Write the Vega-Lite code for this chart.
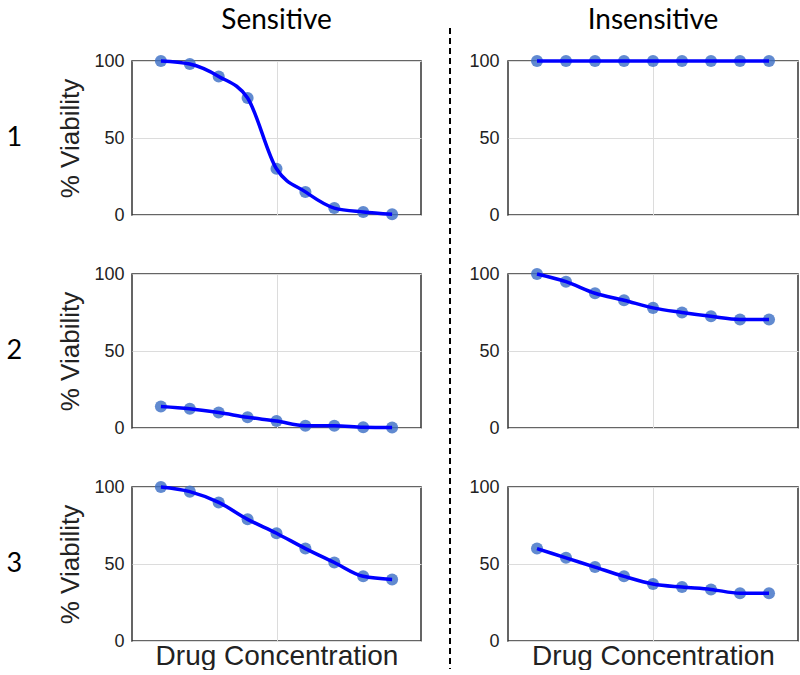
{
  "$schema": "https://vega.github.io/schema/vega-lite/v6.json",
  "padding": {"top": 7, "left": 6, "right": 0, "bottom": 0},
  "background": "white",
  "datasets": {
    "d": [
      {"col": "Sensitive", "row": 1, "conc": 1, "viability": 100},
      {"col": "Sensitive", "row": 1, "conc": 2, "viability": 98},
      {"col": "Sensitive", "row": 1, "conc": 3, "viability": 90},
      {"col": "Sensitive", "row": 1, "conc": 4, "viability": 76},
      {"col": "Sensitive", "row": 1, "conc": 5, "viability": 30},
      {"col": "Sensitive", "row": 1, "conc": 6, "viability": 15},
      {"col": "Sensitive", "row": 1, "conc": 7, "viability": 4.5},
      {"col": "Sensitive", "row": 1, "conc": 8, "viability": 2},
      {"col": "Sensitive", "row": 1, "conc": 9, "viability": 0.5},
      {"col": "Sensitive", "row": 2, "conc": 1, "viability": 14},
      {"col": "Sensitive", "row": 2, "conc": 2, "viability": 12.5},
      {"col": "Sensitive", "row": 2, "conc": 3, "viability": 10},
      {"col": "Sensitive", "row": 2, "conc": 4, "viability": 7},
      {"col": "Sensitive", "row": 2, "conc": 5, "viability": 4.5},
      {"col": "Sensitive", "row": 2, "conc": 6, "viability": 1.5},
      {"col": "Sensitive", "row": 2, "conc": 7, "viability": 1.5},
      {"col": "Sensitive", "row": 2, "conc": 8, "viability": 0.5},
      {"col": "Sensitive", "row": 2, "conc": 9, "viability": 0.3},
      {"col": "Sensitive", "row": 3, "conc": 1, "viability": 100},
      {"col": "Sensitive", "row": 3, "conc": 2, "viability": 97},
      {"col": "Sensitive", "row": 3, "conc": 3, "viability": 90},
      {"col": "Sensitive", "row": 3, "conc": 4, "viability": 79},
      {"col": "Sensitive", "row": 3, "conc": 5, "viability": 70},
      {"col": "Sensitive", "row": 3, "conc": 6, "viability": 60},
      {"col": "Sensitive", "row": 3, "conc": 7, "viability": 51},
      {"col": "Sensitive", "row": 3, "conc": 8, "viability": 42},
      {"col": "Sensitive", "row": 3, "conc": 9, "viability": 40},
      {"col": "Insensitive", "row": 1, "conc": 1, "viability": 100},
      {"col": "Insensitive", "row": 1, "conc": 2, "viability": 100},
      {"col": "Insensitive", "row": 1, "conc": 3, "viability": 100},
      {"col": "Insensitive", "row": 1, "conc": 4, "viability": 100},
      {"col": "Insensitive", "row": 1, "conc": 5, "viability": 100},
      {"col": "Insensitive", "row": 1, "conc": 6, "viability": 100},
      {"col": "Insensitive", "row": 1, "conc": 7, "viability": 100},
      {"col": "Insensitive", "row": 1, "conc": 8, "viability": 100},
      {"col": "Insensitive", "row": 1, "conc": 9, "viability": 100},
      {"col": "Insensitive", "row": 2, "conc": 1, "viability": 100},
      {"col": "Insensitive", "row": 2, "conc": 2, "viability": 95},
      {"col": "Insensitive", "row": 2, "conc": 3, "viability": 87.5},
      {"col": "Insensitive", "row": 2, "conc": 4, "viability": 83},
      {"col": "Insensitive", "row": 2, "conc": 5, "viability": 78},
      {"col": "Insensitive", "row": 2, "conc": 6, "viability": 75},
      {"col": "Insensitive", "row": 2, "conc": 7, "viability": 72.5},
      {"col": "Insensitive", "row": 2, "conc": 8, "viability": 70.5},
      {"col": "Insensitive", "row": 2, "conc": 9, "viability": 70.5},
      {"col": "Insensitive", "row": 3, "conc": 1, "viability": 60},
      {"col": "Insensitive", "row": 3, "conc": 2, "viability": 54},
      {"col": "Insensitive", "row": 3, "conc": 3, "viability": 48},
      {"col": "Insensitive", "row": 3, "conc": 4, "viability": 42},
      {"col": "Insensitive", "row": 3, "conc": 5, "viability": 37},
      {"col": "Insensitive", "row": 3, "conc": 6, "viability": 35},
      {"col": "Insensitive", "row": 3, "conc": 7, "viability": 33.5},
      {"col": "Insensitive", "row": 3, "conc": 8, "viability": 31},
      {"col": "Insensitive", "row": 3, "conc": 9, "viability": 31}
    ],
    "divider": [{"pos": 1}]
  },
  "spacing": 17,
  "hconcat": [
    {
      "data": {"name": "d"},
      "transform": [{"filter": "datum.col === 'Sensitive'"}],
      "facet": {
        "column": {
          "field": "col", "type": "nominal", "title": null,
          "header": {"labelFont": "Lato", "labelFontSize": 28, "labelColor": "#000", "labelPadding": 26}
        },
        "row": {
          "field": "row", "type": "ordinal", "title": null,
          "header": {"labelAngle": 0, "labelOrient": "left", "labelFont": "Lato", "labelFontSize": 27, "labelColor": "#000", "labelPadding": 28, "labelAlign": "center", "labelBaseline": "middle"}
        }
      },
      "bounds": "flush",
      "spacing": {"row": 59},
      "spec": {
        "width": 289,
        "height": 154,
        "layer": [
          {
            "mark": {"type": "point", "filled": true, "size": 145, "color": "#3a6dc4", "opacity": 0.8},
            "encoding": {
              "x": {"field": "conc", "type": "quantitative", "scale": {"domain": [0, 10]},
                    "axis": {"values": [5], "labels": false, "ticks": false, "domain": false, "grid": true, "gridColor": "#dcdcdc", "title": "Drug Concentration", "titleFont": "Liberation Sans", "titleFontSize": 28, "titleFontWeight": "normal", "titleColor": "#222", "titlePadding": 1}},
              "y": {"field": "viability", "type": "quantitative", "scale": {"domain": [0, 100]},
                    "axis": {"values": [0, 50, 100], "ticks": false, "domain": false, "grid": true, "gridColor": "#dcdcdc", "labelFont": "Liberation Sans", "labelFontSize": 18, "labelColor": "#222", "labelPadding": 8, "title": "% Viability", "titleFont": "Liberation Sans", "titleFontSize": 26, "titleFontWeight": "normal", "titleColor": "#222", "titlePadding": 10}}
            }
          },
          {
            "mark": {"type": "line", "color": "#0000ff", "strokeWidth": 3.5, "interpolate": "monotone"},
            "encoding": {
              "x": {"field": "conc", "type": "quantitative"},
              "y": {"field": "viability", "type": "quantitative"}
            }
          }
        ]
      }
    },
    {
      "data": {"name": "divider"},
      "width": 11,
      "height": 580,
      "view": {"stroke": null},
      "mark": {"type": "rule", "color": "#000", "strokeWidth": 2, "strokeDash": [6, 4]},
      "encoding": {
        "x": {"field": "pos", "type": "quantitative", "scale": {"domain": [0, 1]}, "axis": null},
        "y": {"datum": 613, "type": "quantitative", "scale": {"domain": [0, 580]}, "axis": null},
        "y2": {"datum": -28}
      }
    },
    {
      "data": {"name": "d"},
      "transform": [{"filter": "datum.col === 'Insensitive'"}],
      "facet": {
        "column": {
          "field": "col", "type": "nominal", "title": null,
          "header": {"labelFont": "Lato", "labelFontSize": 28, "labelColor": "#000", "labelPadding": 26}
        },
        "row": {
          "field": "row", "type": "ordinal", "title": null,
          "header": {"labels": false, "labelPadding": 0}
        }
      },
      "bounds": "flush",
      "spacing": {"row": 59},
      "spec": {
        "width": 290,
        "height": 154,
        "layer": [
          {
            "mark": {"type": "point", "filled": true, "size": 145, "color": "#3a6dc4", "opacity": 0.8},
            "encoding": {
              "x": {"field": "conc", "type": "quantitative", "scale": {"domain": [0, 10]},
                    "axis": {"values": [5], "labels": false, "ticks": false, "domain": false, "grid": true, "gridColor": "#dcdcdc", "title": "Drug Concentration", "titleFont": "Liberation Sans", "titleFontSize": 28, "titleFontWeight": "normal", "titleColor": "#222", "titlePadding": 1}},
              "y": {"field": "viability", "type": "quantitative", "scale": {"domain": [0, 100]},
                    "axis": {"values": [0, 50, 100], "ticks": false, "domain": false, "grid": true, "gridColor": "#dcdcdc", "labelFont": "Liberation Sans", "labelFontSize": 18, "labelColor": "#222", "labelPadding": 9, "title": null}}
            }
          },
          {
            "mark": {"type": "line", "color": "#0000ff", "strokeWidth": 3.5, "interpolate": "monotone"},
            "encoding": {
              "x": {"field": "conc", "type": "quantitative"},
              "y": {"field": "viability", "type": "quantitative"}
            }
          }
        ]
      }
    }
  ],
  "config": {
    "view": {"stroke": "#333", "strokeWidth": 1.5}
  }
}
